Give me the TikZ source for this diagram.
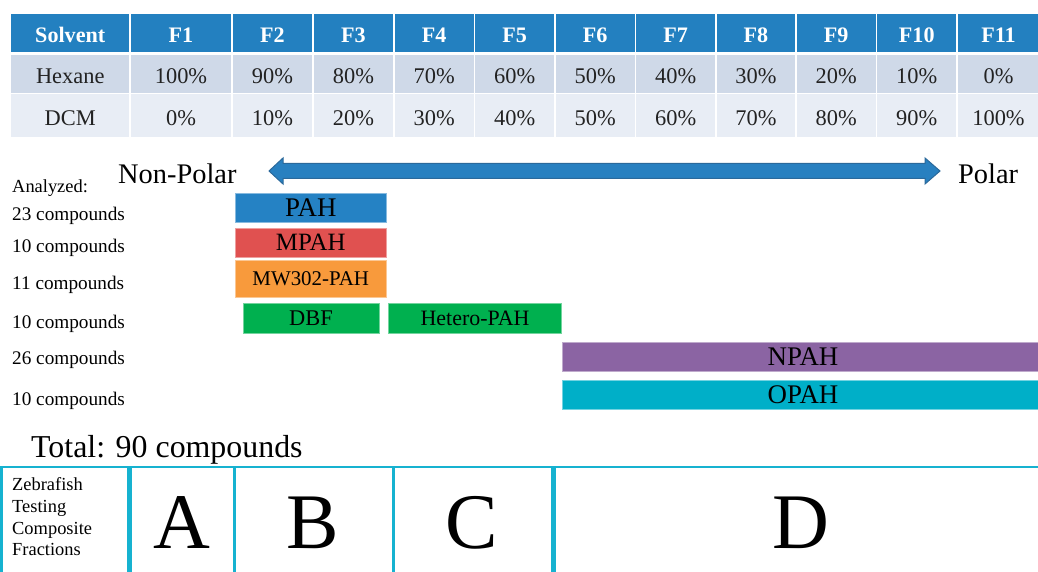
\documentclass[tikz,border=0pt]{standalone}
\usepackage{fontspec}
\setmainfont{Liberation Serif}
\definecolor{hdrblue}{HTML}{2380C0}
\definecolor{rowA}{HTML}{CFD9E8}
\definecolor{rowB}{HTML}{E8EDF5}
\definecolor{pahblue}{HTML}{2582C4}
\definecolor{mpahred}{HTML}{E05150}
\definecolor{mworange}{HTML}{F89A3C}
\definecolor{dbfgreen}{HTML}{00B04F}
\definecolor{npahpurple}{HTML}{8B64A3}
\definecolor{opahcyan}{HTML}{00AFC8}
\definecolor{framecyan}{HTML}{16B2D0}
\definecolor{arrowfill}{HTML}{2880C0}
\definecolor{arrowedge}{HTML}{2B699B}
\definecolor{txtdark}{HTML}{222222}
\tikzset{
  cell/.style={rectangle, inner sep=0pt, anchor=center, text height=18.5bp, text depth=0bp},
  hdrcell/.style={cell, fill=hdrblue, text=white, font=\bfseries\fontsize{22.2}{26}\selectfont},
  hexcell/.style={cell, fill=rowA, text=txtdark, font=\fontsize{22.5}{26}\selectfont},
  dcmcell/.style={cell, fill=rowB, text=txtdark, font=\fontsize{22.5}{26}\selectfont},
  bar/.style={rectangle, inner sep=0pt, anchor=center, line width=0.8bp, text=black},
  countlabel/.style={anchor=base west, inner sep=0pt, font=\fontsize{19.3}{23}\selectfont},
  polelabel/.style={anchor=base west, inner sep=0pt, font=\fontsize{28.5}{32}\selectfont},
  bigletter/.style={anchor=base, inner sep=0pt, font=\fontsize{79}{90}\selectfont},
  frameline/.style={draw=framecyan},
}
\begin{document}
\begin{tikzpicture}[x=1bp, y=-1bp]
\useasboundingbox (0,0) rectangle (1038,572);
\clip (0,0) rectangle (1038,572);

% ---- table ----
\node[hdrcell, minimum width=117.5bp, minimum height=38bp] (h0) at (70.25,33) {Solvent};
\node[hexcell, minimum width=117.5bp, minimum height=37.5bp] (x0) at (70.25,74.25) {Hexane};
\node[dcmcell, minimum width=117.5bp, minimum height=43bp] (d0) at (70.25,116) {DCM};
\foreach \n/\l/\r/\hx/\dc in {
  1/130/232/100\%/0\%,
  2/232/313/90\%/10\%,
  3/313/394/80\%/20\%,
  4/394/474.5/70\%/30\%,
  5/474.5/555/60\%/40\%,
  6/555/635.5/50\%/50\%,
  7/635.5/716/40\%/60\%,
  8/716/796/30\%/70\%,
  9/796/876.5/20\%/80\%,
  10/876.5/957/10\%/90\%,
  11/957/1040/0\%/100\%}{
  \pgfmathsetmacro{\cx}{(\l+\r)/2}
  \pgfmathsetmacro{\cellw}{\r-\l-1.6}
  \node[hdrcell, minimum width=\cellw bp, minimum height=38bp] (h\n) at (\cx,33) {F\n};
  \node[hexcell, minimum width=\cellw bp, minimum height=37.5bp] (x\n) at (\cx,74.25) {\hx};
  \node[dcmcell, minimum width=\cellw bp, minimum height=43bp] (d\n) at (\cx,116) {\dc};
}

% ---- polarity arrow ----
\node[polelabel] (nonpolar) at (118,183.5) {Non-Polar};
\node[polelabel] (polar) at (958,183.5) {Polar};
\path[fill=arrowfill, draw=arrowedge, line width=1bp, line join=miter]
  (269,171) -- (283,158) -- (283,163.5) -- (925,163.5) -- (925,158) -- (940,171)
  -- (925,184) -- (925,178.5) -- (283,178.5) -- (283,184) -- cycle;

% ---- left labels ----
\node[anchor=base west, inner sep=0pt, font=\fontsize{18.5}{22}\selectfont] (analyzed) at (12,193) {Analyzed:};
\node[countlabel] (c1) at (12,221) {23 compounds};
\node[countlabel] (c2) at (12,252.5) {10 compounds};
\node[countlabel] (c3) at (12,290) {11 compounds};
\node[countlabel] (c4) at (12,328) {10 compounds};
\node[countlabel] (c5) at (12,364) {26 compounds};
\node[countlabel] (c6) at (12,405) {10 compounds};

% ---- bars ----
\node[bar, fill=pahblue, draw=pahblue!55!white, minimum width=150.5bp, minimum height=29bp,
  font=\fontsize{27}{30}\selectfont] (pah) at (310.75,207.5) {PAH};
\node[bar, fill=mpahred, draw=mpahred!55!white, minimum width=150.5bp, minimum height=29bp,
  font=\fontsize{25}{28}\selectfont] (mpah) at (310.75,242.5) {MPAH};
\node[bar, fill=mworange, draw=mworange!55!white, minimum width=150.5bp, minimum height=36.5bp,
  font=\fontsize{21}{24}\selectfont] (mw) at (310.75,278.75) {MW302-PAH};
\node[bar, fill=dbfgreen, draw=dbfgreen!55!white, minimum width=136bp, minimum height=30bp,
  font=\fontsize{22.5}{25}\selectfont] (dbf) at (311,318) {DBF};
\node[bar, fill=dbfgreen, draw=dbfgreen!55!white, minimum width=173bp, minimum height=30bp,
  font=\fontsize{22}{25}\selectfont] (hetero) at (475,318) {Hetero-PAH};
\node[bar, fill=npahpurple, draw=npahpurple!55!white, minimum width=482bp, minimum height=29bp,
  font=\fontsize{27}{30}\selectfont] (npah) at (803,356.5) {NPAH};
\node[bar, fill=opahcyan, draw=opahcyan!55!white, minimum width=482bp, minimum height=29bp,
  font=\fontsize{27}{30}\selectfont] (opah) at (803,394.5) {OPAH};

% ---- total ----
\node[anchor=base west, inner sep=0pt, font=\fontsize{32}{36}\selectfont] (total) at (31,457) {Total: 90 compounds};

% ---- bottom frame ----
\draw[frameline, line width=2.6bp] (0,467) -- (1038,467);
\draw[frameline, line width=3bp] (1.5,467) -- (1.5,572);
\draw[frameline, line width=5bp] (129.5,467) -- (129.5,572);
\draw[frameline, line width=3bp] (234.5,467) -- (234.5,572);
\draw[frameline, line width=3bp] (393.5,467) -- (393.5,572);
\draw[frameline, line width=5bp] (553,467) -- (553,572);

\node[anchor=north west, inner sep=0pt, align=left, font=\fontsize{18.5}{21.8}\selectfont] (zebra) at (12,477.5)
  {Zebrafish\\Testing\\Composite\\Fractions};
\node[bigletter] (A) at (182,548) {A};
\node[bigletter] (B) at (313,548) {B};
\node[bigletter] (C) at (472,548) {C};
\node[bigletter] (D) at (801,548) {D};
\end{tikzpicture}
\end{document}
